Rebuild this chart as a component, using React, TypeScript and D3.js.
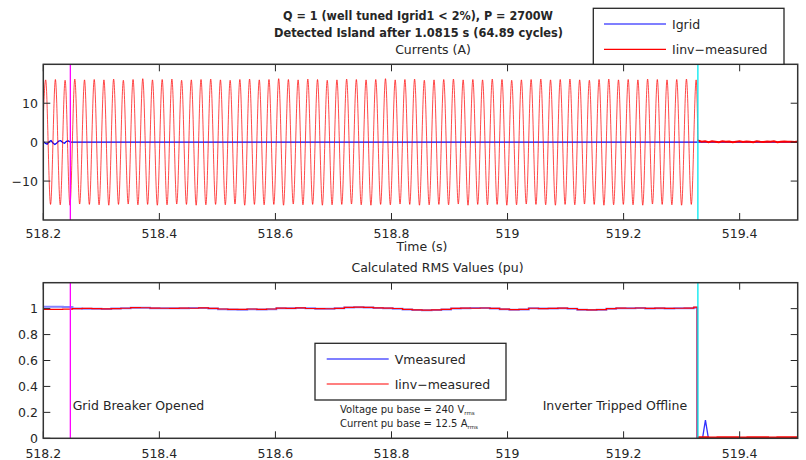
import { useEffect, useRef } from "react"
import * as d3 from "d3"

const W = 806
const H = 460

const xTicks = [518.2, 518.4, 518.6, 518.8, 519, 519.2, 519.4]
const currentTicks = [-10, 0, 10]
const rmsTicks = [0, 0.2, 0.4, 0.6, 0.8, 1]

const breakerTime = 518.2466
const tripTime = 519.328
const firstPeakTime = 518.2041
const cyclePeriod = 0.01673

// Iinv positive / negative peaks per cycle (A)
const iinvPosPeaks = [
  16.0, 16.1, 15.9, 16.2, 16.0, 16.1, 16.0, 16.2, 15.9, 16.1, 16.3, 16.0, 16.1, 16.2, 15.9, 16.0, 16.1,
  16.2, 16.0, 15.9, 16.1, 16.2, 16.0, 16.1, 16.3, 16.1, 16.0, 16.2, 16.1, 15.9, 16.0, 16.2, 16.1, 16.0,
  16.1, 16.3, 16.0, 16.1, 16.2, 15.9, 16.0, 16.1, 16.2, 16.0, 16.1, 16.0, 16.2, 16.1, 15.9, 16.0, 16.1,
  16.2, 16.0, 16.1, 16.2, 16.0, 15.9, 16.1, 16.2, 16.0, 16.1, 16.0, 16.2, 16.1, 16.0, 16.1, 16.2, 16.0,
]
const iinvNegPeaks = [
  -16.0, -16.1, -16.2, -15.9, -16.0, -16.1, -16.2, -16.0, -15.9, -16.1, -16.0, -16.2, -16.1, -15.9, -16.0,
  -16.2, -16.1, -16.0, -16.1, -15.9, -16.2, -16.0, -16.1, -16.0, -16.2, -15.9, -16.1, -16.0, -16.2, -16.1,
  -16.0, -15.9, -16.1, -16.2, -16.0, -16.1, -15.9, -16.0, -16.2, -16.1, -16.0, -16.1, -15.9, -16.2, -16.0,
  -16.1, -16.0, -16.2, -16.1, -15.9, -16.0, -16.1, -16.2, -16.0, -16.1, -15.9, -16.0, -16.2, -16.1, -16.0,
  -16.1, -16.2, -15.9, -16.0, -16.1, -16.2, -16.0,
]
// Iinv after the inverter trips (A)
const iinvAfterTrip = [
  0.4, 0.1, 0.2, 0.0, 0.2, 0.1, 0.0, 0.2, 0.1, 0.15, 0.0, 0.1, 0.2, 0.05, 0.15, 0.1, 0.0, 0.2, 0.1, 0.05,
  0.15, 0.1, 0.2, 0.0, 0.1, 0.15, 0.1, 0.1, 0.05, 0.15,
]
// Igrid before the breaker opens (A)
const igridPreBreak = [0.2, -0.3, -0.5, 0.1, 0.4, -0.2, -0.6, -0.2, 0.3, 0.4, -0.1, -0.3, 0.2, 0.3, 0.0]

// per-cycle RMS values (pu)
const iinvRms = [
  0.995, 0.995, 0.996, 1.0, 1.002, 1.0, 0.998, 1.0, 1.003, 1.008, 1.007, 1.004, 1.003, 1.002, 1.004, 1.003,
  1.006, 1.002, 0.997, 0.995, 0.994, 0.997, 0.995, 0.997, 1.004, 1.002, 1.006, 1.001, 1.0, 0.999, 1.002,
  1.01, 1.012, 1.009, 1.006, 1.004, 1.001, 0.995, 0.99, 0.988, 0.991, 0.995, 1.002, 1.004, 1.003, 1.005,
  1.002, 0.996, 0.993, 0.995, 1.003, 1.0, 1.002, 1.004, 1.001, 0.993, 0.99, 0.992, 1.0, 1.004, 1.003, 1.005,
  1.002, 1.004, 1.002, 1.003, 1.004, 1.012,
]
const vRms = [
  1.015, 1.015, 1.012, 1.001, 1.0, 0.999, 0.998, 1.001, 1.002, 1.006, 1.006, 1.003, 1.002, 1.003, 1.002,
  1.004, 1.004, 1.001, 0.995, 0.993, 0.992, 0.995, 0.994, 0.996, 1.002, 1.003, 1.004, 1.002, 1.0, 1.0,
  1.003, 1.008, 1.01, 1.008, 1.005, 1.003, 1.0, 0.994, 0.989, 0.987, 0.99, 0.994, 1.001, 1.003, 1.004,
  1.004, 1.001, 0.995, 0.992, 0.994, 1.002, 1.001, 1.001, 1.003, 1.0, 0.992, 0.989, 0.991, 0.999, 1.003,
  1.002, 1.004, 1.001, 1.003, 1.001, 1.002, 1.003, 1.006,
]
const iinvRmsAfter = [0.006, 0.004, 0.006, 0.005, 0.004, 0.006, 0.005, 0.004, 0.006, 0.005, 0.005]
const vRmsAfterT = [519.329, 519.336, 519.3385, 519.341, 519.3435, 519.346, 519.5]
const vRmsAfterV = [0.0, 0.0, 0.07, 0.14, 0.07, 0.003, 0.003]

const FONT = "DejaVu Sans"
const INK = "#262626"

export default function App() {
  const svgRef = useRef<SVGSVGElement>(null)

  useEffect(() => {
    if (!svgRef.current) return
    const svg = d3.select(svgRef.current)
    svg.selectAll("*").remove()

    const left = 43.3
    const right = 797.7
    const x = d3.scaleLinear().domain([518.2, 519.5]).range([left, right])

    const yTop = d3.scaleLinear().domain([-20, 20]).range([220, 64.3])
    const yBot = d3.scaleLinear().domain([0, 1.2]).range([438.3, 282.7])

    const defs = svg.append("defs")
    const addClip = (id: string, y0: number, y1: number) =>
      defs
        .append("clipPath")
        .attr("id", id)
        .append("rect")
        .attr("x", left)
        .attr("y", y0)
        .attr("width", right - left)
        .attr("height", y1 - y0)
    addClip("clipTop", 64.3, 220)
    addClip("clipBot", 282.7, 438.3)

    const drawFrame = (
      y: d3.ScaleLinear<number, number>,
      yTicks: number[],
      fmt: (d: number) => string,
      labelGap: number
    ) => {
      const [y0, y1] = [y.range()[1], y.range()[0]]
      const g = svg.append("g")
      // ticks inside, mirrored on all four sides
      xTicks.forEach((t) => {
        g.append("line").attr("x1", x(t)).attr("x2", x(t)).attr("y1", y1).attr("y2", y1 - 7).attr("stroke", INK)
        g.append("line").attr("x1", x(t)).attr("x2", x(t)).attr("y1", y0).attr("y2", y0 + 7).attr("stroke", INK)
        g.append("text")
          .attr("x", x(t))
          .attr("y", y1 + labelGap)
          .attr("text-anchor", "middle")
          .style("font-family", FONT)
          .style("font-size", "12.5px")
          .attr("fill", INK)
          .text(d3.format("")(t))
      })
      yTicks.forEach((t) => {
        g.append("line").attr("x1", left).attr("x2", left + 7).attr("y1", y(t)).attr("y2", y(t)).attr("stroke", INK)
        g.append("line").attr("x1", right).attr("x2", right - 7).attr("y1", y(t)).attr("y2", y(t)).attr("stroke", INK)
        g.append("text")
          .attr("x", 38)
          .attr("y", y(t))
          .attr("dy", "0.36em")
          .attr("text-anchor", "end")
          .style("font-family", FONT)
          .style("font-size", "12.5px")
          .attr("fill", INK)
          .text(fmt(t))
      })
      g.append("rect")
        .attr("x", left)
        .attr("y", y0)
        .attr("width", right - left)
        .attr("height", y1 - y0)
        .attr("fill", "none")
        .attr("stroke", "#333")
        .attr("stroke-width", 1.5)
    }

    const text = (tx: number, ty: number, s: string, size: number, anchor = "start", weight = "normal") =>
      svg
        .append("text")
        .attr("x", tx)
        .attr("y", ty)
        .attr("text-anchor", anchor)
        .style("font-family", FONT)
        .style("font-size", `${size}px`)
        .style("font-weight", weight)
        .attr("fill", INK)
        .text(s)

    // ---------- top plot: currents ----------
    const iinvPts: [number, number][] = [[firstPeakTime - cyclePeriod / 2, -16]]
    iinvPosPeaks.forEach((p, i) => {
      const t = firstPeakTime + i * cyclePeriod
      iinvPts.push([t, p])
      if (i < iinvNegPeaks.length) iinvPts.push([t + cyclePeriod / 2, iinvNegPeaks[i]])
    })
    iinvPts.push([tripTime, 0.3])
    const noiseStep = (519.5 - tripTime) / (iinvAfterTrip.length - 1)
    iinvAfterTrip.forEach((v, i) => iinvPts.push([tripTime + 0.0006 + i * noiseStep, v]))

    const igridPts: [number, number][] = igridPreBreak.map((v, i) => [
      518.2 + (i * (breakerTime - 518.2)) / (igridPreBreak.length - 1),
      v,
    ])
    igridPts.push([519.5, 0])

    const lineTop = d3
      .line<[number, number]>()
      .x((d) => x(d[0]))
      .y((d) => yTop(d[1]))

    const top = svg.append("g").attr("clip-path", "url(#clipTop)")
    top
      .append("path")
      .attr("d", lineTop.curve(d3.curveLinear)(igridPts))
      .attr("fill", "none")
      .attr("stroke", "#0000ff")
      .attr("stroke-width", 1.3)
    top
      .append("path")
      .attr("d", lineTop.curve(d3.curveMonotoneX)(iinvPts.filter((d) => d[0] <= tripTime)))
      .attr("fill", "none")
      .attr("stroke", "#ff0000")
      .attr("stroke-opacity", 0.8)
      .attr("stroke-width", 0.9)
    top
      .append("path")
      .attr("d", lineTop.curve(d3.curveLinear)(iinvPts.filter((d) => d[0] >= tripTime)))
      .attr("fill", "none")
      .attr("stroke", "#ff0000")
      .attr("stroke-width", 2)
    ;[
      [breakerTime, "#ff00ff"],
      [tripTime, "#00e8f0"],
    ].forEach(([t, c]) =>
      top
        .append("line")
        .attr("x1", x(t as number))
        .attr("x2", x(t as number))
        .attr("y1", 64.3)
        .attr("y2", 220)
        .attr("stroke", c as string)
        .attr("stroke-width", 1.3)
    )
    drawFrame(yTop, currentTicks, (d) => (d < 0 ? `\u2212${-d}` : `${d}`), 18)

    // ---------- bottom plot: RMS ----------
    const lineBot = d3
      .line<[number, number]>()
      .x((d) => x(d[0]))
      .y((d) => yBot(d[1]))
    const stairs = (vals: number[], after: [number, number][]) => {
      const pts: [number, number][] = vals.map((v, i) => [518.2 + i * cyclePeriod, v])
      pts.push([tripTime - 0.0012, vals[vals.length - 1]])
      pts.push([tripTime - 0.0012, 0])
      return { pts, after }
    }
    const bot = svg.append("g").attr("clip-path", "url(#clipBot)")
    const vS = stairs(vRms, vRmsAfterT.map((t, i) => [t, vRmsAfterV[i]]))
    const iS = stairs(
      iinvRms,
      iinvRmsAfter.map((v, i) => [tripTime + (i * (519.5 - tripTime)) / (iinvRmsAfter.length - 1), v])
    )
    bot
      .append("path")
      .attr("d", lineBot.curve(d3.curveStepAfter)(vS.pts))
      .attr("fill", "none")
      .attr("stroke", "#3030ff")
      .attr("stroke-opacity", 0.6)
      .attr("stroke-width", 2)
    bot
      .append("path")
      .attr("d", lineBot.curve(d3.curveLinear)(vS.after))
      .attr("fill", "none")
      .attr("stroke", "#3030ff")
      .attr("stroke-width", 1.3)
    bot
      .append("path")
      .attr("d", lineBot.curve(d3.curveStepAfter)(iS.pts))
      .attr("fill", "none")
      .attr("stroke", "#ff0000")
      .attr("stroke-width", 1.2)
    bot
      .append("path")
      .attr("d", lineBot.curve(d3.curveStepAfter)(iS.after))
      .attr("fill", "none")
      .attr("stroke", "#ff0000")
      .attr("stroke-width", 2.6)
    ;[
      [breakerTime, "#ff00ff"],
      [tripTime, "#00e8f0"],
    ].forEach(([t, c]) =>
      bot
        .append("line")
        .attr("x1", x(t as number))
        .attr("x2", x(t as number))
        .attr("y1", 282.7)
        .attr("y2", 438.3)
        .attr("stroke", c as string)
        .attr("stroke-width", 1.3)
    )
    drawFrame(yBot, rmsTicks, (d) => `${d}`, 19.5)

    // ---------- titles ----------
    text(418, 20, "Q = 1 (well tuned Igrid1 < 2%), P = 2700W", 12, "middle", "bold")
      .attr("textLength", 270)
      .attr("lengthAdjust", "spacingAndGlyphs")
    text(418.5, 37, "Detected Island after 1.0815 s (64.89 cycles)", 12, "middle", "bold")
      .attr("textLength", 289)
      .attr("lengthAdjust", "spacingAndGlyphs")
    text(433, 53.5, "Currents (A)", 12.5, "middle")
    text(422, 251, "Time (s)", 12.5, "middle")
    text(437.5, 272, "Calculated RMS Values (pu)", 12.5, "middle")

    // ---------- annotations ----------
    text(72.7, 410, "Grid Breaker Opened", 12.5)
    text(542.7, 410, "Inverter Tripped Offline", 12.5)
    const sub = (ty: number, s: string, unit: string) => {
      const t = text(340, ty, s, 10)
      t.append("tspan").text(unit)
      t.append("tspan").attr("dy", 2).style("font-size", "5.5px").text("rms")
    }
    sub(413, "Voltage pu base = 240 ", "V")
    sub(427, "Current pu base = 12.5 ", "A")

    // ---------- legends ----------
    const legend = (
      bx: number,
      by: number,
      bw: number,
      bh: number,
      items: [string, string][],
      lx: number,
      ly: number[]
    ) => {
      svg
        .append("rect")
        .attr("x", bx)
        .attr("y", by)
        .attr("width", bw)
        .attr("height", bh)
        .attr("fill", "white")
        .attr("stroke", INK)
        .attr("stroke-width", 1.3)
      items.forEach(([label, c], i) => {
        svg
          .append("line")
          .attr("x1", lx)
          .attr("x2", lx + 62)
          .attr("y1", ly[i])
          .attr("y2", ly[i])
          .attr("stroke", c)
          .attr("stroke-width", 1.2)
        text(lx + 68, ly[i] + 4.5, label, 12.5)
      })
    }
    legend(593.3, 8.3, 190.7, 56, [["Igrid", "#0000ff"], ["Iinv\u2212measured", "#ff0000"]], 604, [24, 49.3])
    legend(315, 343.3, 191, 56.7, [["Vmeasured", "#0000ff"], ["Iinv\u2212measured", "#ff0000"]], 326.7, [359, 384])
  }, [])

  return (
    <svg
      ref={svgRef}
      width={W}
      height={H}
      style={{ position: "absolute", left: 0, top: 0, background: "white" }}
    ></svg>
  )
}
